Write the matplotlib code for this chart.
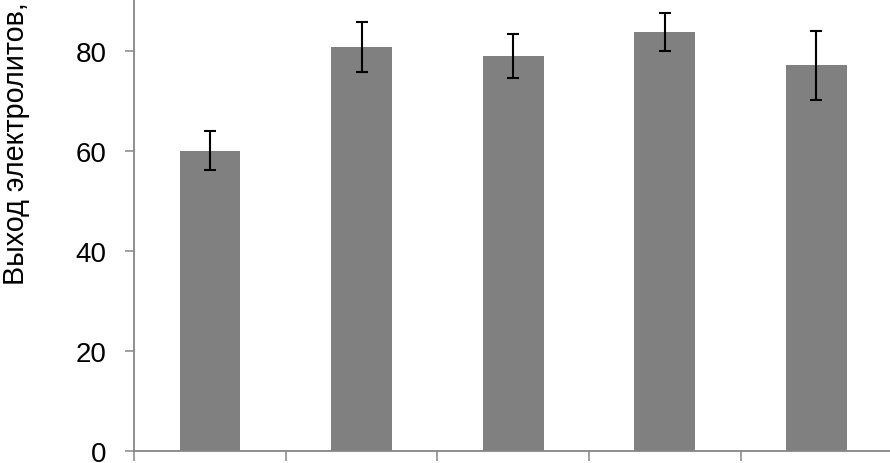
import matplotlib
matplotlib.use('Agg')
import matplotlib.pyplot as plt

# bar heights and error values
groups = ['1', '2', '3', '4', '5']
values = [60.0, 80.8, 79.0, 83.7, 77.1]
errors = [3.9, 5.0, 4.4, 3.8, 6.9]
yticks = [0, 20, 40, 60, 80]

plt.rcParams['font.family'] = ['Liberation Sans', 'DejaVu Sans']

fig = plt.figure(figsize=(8.9, 4.64), dpi=100)
ax = fig.add_axes([0.1506, 0.0259, 0.852, 0.9741])

x = list(range(len(groups)))
ax.bar(x, values, width=0.4, color='#808080', zorder=2)
ax.errorbar(x, values, yerr=errors, fmt='none', ecolor='black',
            elinewidth=1.5, capsize=4, capthick=1.5, zorder=3)

ax.set_xlim(-0.5, len(groups) - 0.5)
ax.set_ylim(0, 90.4)
ax.set_yticks(yticks)
ax.set_xticks([i - 0.5 for i in range(len(groups) + 1)])
ax.set_xticklabels([])

for side in ['top', 'right']:
    ax.spines[side].set_visible(False)
for side in ['left', 'bottom']:
    ax.spines[side].set_color('#868686')
    ax.spines[side].set_linewidth(1.3)

ax.tick_params(axis='y', direction='out', length=6.5, width=1.1,
               color='#868686', labelsize=20, pad=13.5)
ax.tick_params(axis='x', direction='out', length=7, width=1.1,
               color='#868686')

fig.text(0.018, 0.386, 'Выход электролитов, %', rotation=90,
         ha='center', va='bottom', fontsize=20.7)

fig.savefig('out.png', dpi=100)
